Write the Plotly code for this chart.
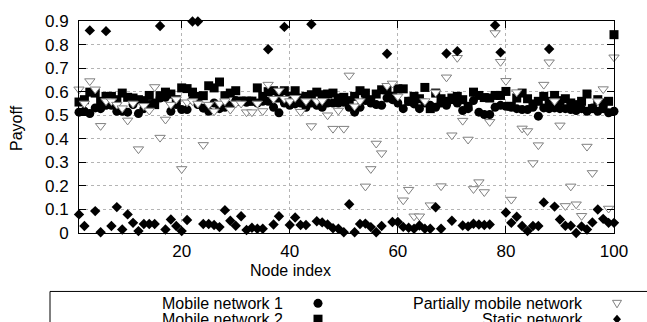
import plotly.graph_objects as go

node_index = list(range(1, 101))

mobile_network_1 = [
    0.513, 0.517, 0.507, 0.531, 0.528, 0.542, 0.542, 0.517, 0.517, 0.513,
    0.545, 0.507, 0.528, 0.545, 0.552, 0.573, 0.576, 0.517, 0.545, 0.524,
    0.524, 0.566, 0.545, 0.530, 0.517, 0.552, 0.528, 0.534, 0.542, 0.562,
    0.559, 0.555, 0.559, 0.552, 0.559, 0.559, 0.534, 0.510, 0.552, 0.542,
    0.548, 0.552, 0.534, 0.552, 0.542, 0.534, 0.552, 0.552, 0.552, 0.555,
    0.534, 0.513, 0.534, 0.562, 0.552, 0.545, 0.542, 0.573, 0.566, 0.552,
    0.528, 0.559, 0.548, 0.528, 0.552, 0.542, 0.534, 0.552, 0.542, 0.566,
    0.552, 0.520, 0.528, 0.562, 0.513, 0.503, 0.503, 0.534, 0.542, 0.538,
    0.534, 0.528, 0.524, 0.524, 0.534, 0.496, 0.531, 0.528, 0.531, 0.528,
    0.528, 0.524, 0.520, 0.528, 0.517, 0.531, 0.517, 0.528, 0.510, 0.517,
]

mobile_network_2 = [
    0.556, 0.566, 0.598, 0.594, 0.559, 0.580, 0.580, 0.566, 0.594, 0.576,
    0.573, 0.566, 0.562, 0.584, 0.545, 0.583, 0.598, 0.590, 0.566, 0.616,
    0.613, 0.598, 0.580, 0.583, 0.625, 0.616, 0.641, 0.583, 0.594, 0.604,
    0.560, 0.560, 0.560, 0.616, 0.580, 0.600, 0.604, 0.573, 0.604, 0.580,
    0.604, 0.573, 0.580, 0.587, 0.598, 0.587, 0.590, 0.594, 0.573, 0.576,
    0.562, 0.580, 0.604, 0.594, 0.566, 0.590, 0.608, 0.608, 0.580, 0.612,
    0.612, 0.559, 0.580, 0.570, 0.618, 0.528, 0.594, 0.570, 0.559, 0.573,
    0.580, 0.566, 0.538, 0.598, 0.584, 0.575, 0.573, 0.584, 0.584, 0.601,
    0.538, 0.573, 0.594, 0.570, 0.548, 0.559, 0.580, 0.559, 0.584, 0.562,
    0.570, 0.552, 0.545, 0.559, 0.590, 0.528, 0.566, 0.552, 0.559, 0.842,
]

partially_mobile = [
    0.610, 0.550, 0.645, 0.610, 0.455, 0.560, 0.560, 0.545, 0.530, 0.478,
    0.550, 0.356, 0.540, 0.520, 0.620, 0.405, 0.482, 0.545, 0.568, 0.272,
    0.555, 0.560, 0.550, 0.374, 0.545, 0.517, 0.550, 0.560, 0.524, 0.550,
    0.550, 0.513, 0.513, 0.550, 0.518, 0.630, 0.570, 0.605, 0.570, 0.560,
    0.574, 0.515, 0.560, 0.454, 0.560, 0.561, 0.500, 0.443, 0.520, 0.443,
    0.669, 0.538, 0.560, 0.198, 0.272, 0.380, 0.339, 0.625, 0.635, 0.580,
    0.139, 0.184, 0.071, 0.071, 0.560, 0.118, 0.597, 0.199, 0.661, 0.415,
    0.744, 0.477, 0.397, 0.187, 0.216, 0.174, 0.472, 0.849, 0.727, 0.646,
    0.142, 0.598, 0.444, 0.433, 0.297, 0.373, 0.630, 0.725, 0.560, 0.457,
    0.115, 0.198, 0.122, 0.073, 0.367, 0.255, 0.560, 0.611, 0.104, 0.746,
]

static_network = [
    0.079, 0.030, 0.860, 0.093, 0.003, 0.857, 0.030, 0.110, 0.015, 0.079,
    0.043, 0.008, 0.038, 0.038, 0.038, 0.879, 0.015, 0.057, 0.030, 0.008,
    0.055, 0.898, 0.898, 0.038, 0.038, 0.034, 0.025, 0.097, 0.052, 0.031,
    0.071, 0.013, 0.022, 0.018, 0.018, 0.780, 0.036, 0.071, 0.875, 0.034,
    0.066, 0.034, 0.034, 0.886, 0.050, 0.045, 0.036, 0.020, 0.018, 0.003,
    0.122, 0.003, 0.038, 0.040, 0.025, 0.003, 0.030, 0.761, 0.047, 0.047,
    0.026, 0.022, 0.018, 0.032, 0.018, 0.018, 0.109, 0.018, 0.762, 0.052,
    0.772, 0.032, 0.028, 0.039, 0.036, 0.034, 0.036, 0.882, 0.767, 0.087,
    0.043, 0.069, 0.030, 0.008, 0.030, 0.030, 0.130, 0.781, 0.112, 0.057,
    0.031, 0.031, 0.000, 0.028, 0.015, 0.045, 0.100, 0.060, 0.043, 0.043,
]

series_names = ["Mobile network 1", "Mobile network 2",
                "Partially mobile network", "Static network"]
x_ticks = [20, 40, 60, 80, 100]
y_ticks = [0, 0.1, 0.2, 0.3, 0.4, 0.5, 0.6, 0.7, 0.8, 0.9]

FONT = "Liberation Sans, Arial, Helvetica, sans-serif"

fig = go.Figure()
fig.add_trace(go.Scatter(x=node_index, y=mobile_network_1, mode="markers",
                         name=series_names[0], cliponaxis=False,
                         marker=dict(symbol="circle", size=9, color="black")))
fig.add_trace(go.Scatter(x=node_index, y=mobile_network_2, mode="markers",
                         name=series_names[1], cliponaxis=False,
                         marker=dict(symbol="square", size=9, color="black")))
fig.add_trace(go.Scatter(x=node_index, y=partially_mobile, mode="markers",
                         name=series_names[2], cliponaxis=False,
                         marker=dict(symbol="triangle-down", size=9, color="white",
                                     line=dict(color="#808080", width=1))))
fig.add_trace(go.Scatter(x=node_index, y=static_network, mode="markers",
                         name=series_names[3], cliponaxis=False,
                         marker=dict(symbol="diamond", size=8, color="black")))

axis_common = dict(showline=True, linecolor="black", linewidth=1, mirror="allticks",
                   ticks="inside", ticklen=7, tickcolor="black", showgrid=True,
                   gridcolor="#b4b4b4", griddash="dot", gridwidth=1, zeroline=False,
                   tickfont=dict(family=FONT, size=17, color="black"))

fig.update_xaxes(range=[1, 100], tickvals=x_ticks, ticktext=[str(v) for v in x_ticks],
                 ticklabelstandoff=3, **axis_common)
fig.update_yaxes(range=[0, 0.9], tickvals=y_ticks, ticktext=[f"{v:g}" for v in y_ticks],
                 ticklabelstandoff=6, **axis_common)

W, H = 647, 322
L, R, T, B = 79, 614, 19, 233
pw, ph = R - L, B - T


def px(xp):
    return (xp - L) / pw


def py(yp):
    return (B - yp) / ph


annotations = [
    dict(text="Node index", x=px(290), y=py(271), xref="paper", yref="paper",
         showarrow=False, font=dict(family=FONT, size=16, color="black"),
         xanchor="center", yanchor="middle"),
    dict(text="Payoff", x=px(17), y=py(127), xref="paper", yref="paper",
         showarrow=False, textangle=-90, font=dict(family=FONT, size=16, color="black"),
         xanchor="center", yanchor="middle"),
]

# legend (gnuplot style: text right-aligned, then sample marker)
legend_rows = [(series_names[0], 285, 304), (series_names[2], 585, 304),
               (series_names[1], 285, 320), (series_names[3], 585, 320)]
for name, tx, ty in legend_rows:
    annotations.append(dict(text=name, x=px(tx), y=py(ty), xref="paper", yref="paper",
                            showarrow=False, xanchor="right", yanchor="middle",
                            font=dict(family=FONT, size=16, color="black")))

shapes = [
    dict(type="rect", xref="paper", yref="paper", x0=px(50), x1=px(700),
         y0=py(292), y1=py(380), line=dict(color="black", width=1),
         fillcolor="rgba(0,0,0,0)"),
]


def marker_shape(kind, mx, my):
    base = dict(xref="paper", yref="paper", xsizemode="pixel", ysizemode="pixel",
                xanchor=px(mx), yanchor=py(my))
    if kind == "circle":
        base.update(type="circle", x0=-4.5, x1=4.5, y0=-4.5, y1=4.5,
                    fillcolor="black", line=dict(color="black", width=0))
    elif kind == "square":
        base.update(type="rect", x0=-4.5, x1=4.5, y0=-4.5, y1=4.5,
                    fillcolor="black", line=dict(color="black", width=0))
    elif kind == "triangle":
        base.update(type="path", path="M -4.5,3 L 4.5,3 L 0,-4.5 Z",
                    fillcolor="white", line=dict(color="#808080", width=1))
    else:
        base.update(type="path", path="M 0,4.5 L 4,0 L 0,-4.5 L -4,0 Z",
                    fillcolor="black", line=dict(color="black", width=0))
    return base


shapes += [marker_shape("circle", 318, 304), marker_shape("triangle", 617, 304),
           marker_shape("square", 318, 320), marker_shape("diamond", 617, 320)]

fig.update_layout(
    width=W, height=H,
    margin=dict(l=L, r=W - R, t=T, b=H - B, pad=0),
    paper_bgcolor="white", plot_bgcolor="white",
    showlegend=False,
    annotations=annotations,
    shapes=shapes,
    font=dict(family=FONT, color="black"),
)

fig.write_html("out.html")
